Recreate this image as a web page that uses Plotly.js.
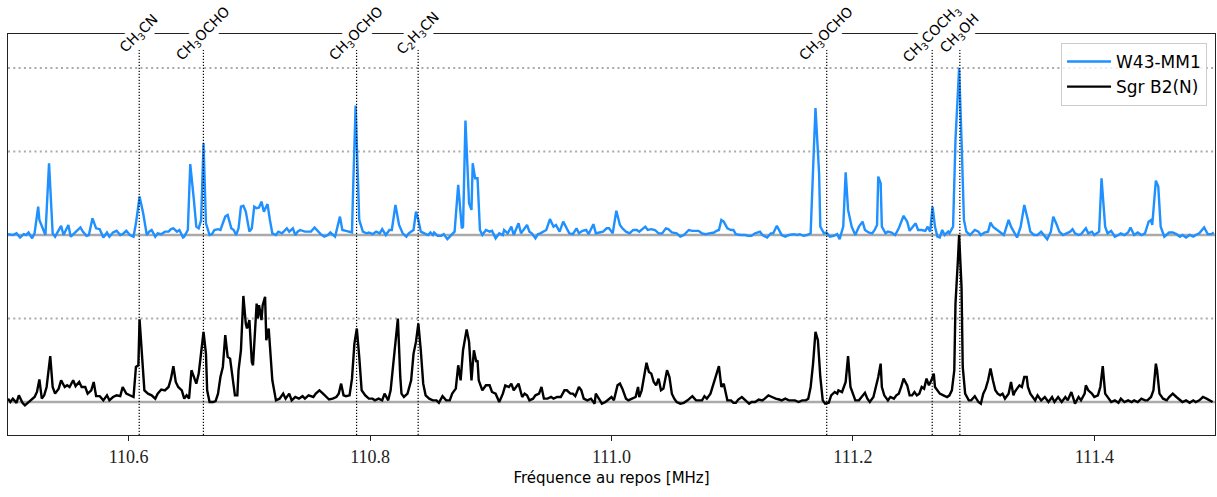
<!DOCTYPE html>
<html><head><meta charset="utf-8">
<script src="https://cdn.plot.ly/plotly-3.0.1.min.js"></script>
<style>html,body{margin:0;padding:0;background:#fff}#chart{width:1217px;height:497px}</style>
</head><body><div id="chart"></div>
<script>
// W43-MM1 spectrum (normalised intensity)
const w43Freq = [
110.500,110.504,110.507,110.510,110.513,110.515,110.517,110.520,110.522,110.525,
110.526,110.529,110.531,110.534,110.537,110.539,110.541,110.544,110.546,110.550,
110.552,110.555,110.557,110.560,110.562,110.565,110.567,110.570,110.573,110.576,
110.579,110.582,110.584,110.587,110.590,110.593,110.595,110.598,110.601,110.604,
110.606,110.609,110.612,110.615,110.617,110.619,110.622,110.624,110.627,110.630,
110.633,110.635,110.637,110.640,110.642,110.645,110.646,110.649,110.651,110.654,
110.656,110.658,110.660,110.662,110.664,110.667,110.669,110.671,110.674,110.676,
110.680,110.682,110.685,110.687,110.689,110.691,110.693,110.695,110.697,110.700,
110.702,110.704,110.706,110.708,110.710,110.712,110.715,110.717,110.719,110.722,
110.724,110.727,110.729,110.731,110.733,110.736,110.738,110.740,110.742,110.746,
110.748,110.751,110.754,110.757,110.759,110.762,110.765,110.767,110.769,110.771,
110.775,110.777,110.780,110.783,110.785,110.786,110.788,110.791,110.794,110.797,
110.799,110.802,110.805,110.808,110.810,110.813,110.816,110.818,110.821,110.824,
110.827,110.830,110.832,110.836,110.838,110.840,110.842,110.845,110.848,110.850,
110.852,110.853,110.856,110.859,110.861,110.864,110.867,110.870,110.873,110.876,
110.877,110.879,110.882,110.884,110.885,110.887,110.889,110.891,110.893,110.896,
110.899,110.901,110.904,110.907,110.910,110.911,110.914,110.917,110.919,110.923,
110.925,110.928,110.930,110.932,110.934,110.937,110.939,110.941,110.944,110.946,
110.949,110.952,110.954,110.957,110.960,110.962,110.965,110.968,110.971,110.973,
110.976,110.979,110.981,110.985,110.987,110.990,110.993,110.996,110.998,111.001,
111.004,111.007,111.009,111.012,111.015,111.018,111.021,111.023,111.028,111.030,
111.033,111.036,111.039,111.042,111.045,111.047,111.050,111.054,111.057,111.060,
111.064,111.067,111.070,111.072,111.075,111.078,111.081,111.085,111.087,111.089,
111.091,111.093,111.096,111.099,111.101,111.103,111.107,111.111,111.113,111.116,
111.119,111.123,111.125,111.129,111.132,111.134,111.137,111.139,111.141,111.144,
111.147,111.151,111.154,111.156,111.159,111.162,111.165,111.167,
111.169,111.172,111.173,111.176,111.178,111.181,111.184,111.187,111.189,111.192,
111.194,111.196,111.199,111.202,111.205,111.208,111.210,111.213,111.216,111.218,
111.220,111.221,111.223,111.224,111.227,111.229,111.232,111.235,111.238,111.242,
111.245,111.247,111.250,111.252,111.254,111.257,111.260,111.262,111.264,111.266,
111.268,111.270,111.272,111.274,111.276,111.279,111.280,111.283,111.285,111.287,
111.288,111.290,111.292,111.294,111.297,111.301,111.304,111.306,111.309,111.312,
111.314,111.316,111.319,111.322,111.325,111.326,111.329,111.331,111.334,111.336,
111.339,111.342,111.345,111.347,111.350,111.353,111.356,111.358,111.361,111.364,
111.366,111.369,111.371,111.374,111.377,111.380,111.382,111.384,111.387,111.389,
111.393,111.395,111.398,111.400,111.404,111.406,111.409,111.411,111.414,111.417,
111.420,111.422,111.425,111.428,111.430,111.433,111.436,111.439,111.442,111.445,
111.447,111.448,111.451,111.453,111.455,111.458,111.462,111.465,111.468,111.471,
111.473,111.476,111.479,111.482,111.484,111.487,111.491,111.494,111.497,111.499
];
const w43Int = [
0.01,0,0.02,-0.03,0.01,0,0.03,-0.04,0.02,0.34,
0.18,0.06,0,0.86,0.02,-0.02,0.04,0.11,0,0.12,
-0.02,0.03,0.05,0.09,0.04,-0.01,0,0.20,0.08,0.07,
-0.03,0.03,-0.02,0.03,0.05,0,0.01,0.05,0,-0.02,
0.14,0.46,0.26,0,0.04,0.06,-0.02,0.02,0.01,0.04,
0.04,0.07,0.08,0.04,0.06,-0.03,-0.02,0.06,0.85,0.42,
0.10,0.08,0.18,1.10,0.14,0,0.01,0.06,0.07,0.06,
0.22,0.24,0.08,0.06,0,0.08,0.34,0.35,0.28,0.04,
0.08,0.34,0.32,0.33,0.40,0.28,0.37,0.18,0.02,0,
0.04,0.02,0.05,0.08,0.04,0.08,0,0.04,0.06,0.04,
0.04,0.04,0.09,0.04,0.01,-0.02,0,0.03,0,-0.02,
0.22,0.06,0.05,0.04,0.03,0.58,1.55,0.18,0.04,0.02,
0.03,0.01,0.04,0.02,0.07,0,0.06,0.06,0.36,0.12,
0.02,-0.02,0.02,0.06,0.28,0.18,0.04,0.02,0,0.03,
0,0.03,-0.01,-0.01,0.01,-0.05,0,0.04,0.60,0.08,
0.10,1.37,0.38,0.30,0.86,0.68,0.68,0.06,0,0.06,
0.04,0.05,-0.04,0.02,0,0.06,0.02,0.10,0,0.14,
0.02,0.08,0.12,0.04,0.02,-0.04,0.01,0.02,0.04,0.06,
0.19,0.10,0.12,0.04,0.16,0.10,0.02,0.01,0.08,0.02,
0.05,0.06,0.01,0.13,0.02,0.03,0.04,0.08,0.08,0.02,
0.29,0.12,0.08,0.04,0.02,0.06,0.06,0.04,0.10,0.06,
0.07,0.06,0.02,0.02,0.08,0.07,0.03,0.02,-0.02,0,
0.06,0.05,0.05,0.05,0.02,0.01,0.02,0.03,0.05,0.06,
0.18,0.16,0.08,0.06,0.06,0.01,0,0,-0.01,-0.01,
0.02,0.04,0,-0.03,0.02,0.02,0.11,0.06,0,-0.02,
0,0.01,0,0.01,-0.01,0,0.02,0.78,
1.52,0.74,0.10,0.02,0.03,-0.02,-0.01,0.01,-0.05,0.10,
0.75,0.30,0.10,0,0.10,0.16,0.06,0.03,0.02,0.06,
0.12,0.70,0.62,0.10,0.02,0.04,0.03,0,0.08,0.23,
0.16,0.05,0.10,0.14,0.06,0.06,0.05,0.10,0.04,0.34,
0.10,-0.02,-0.03,0.06,0,0.04,0.02,0.10,1.14,1.78,
2.00,1.14,0.18,0.04,0,0.06,0.04,0,0.03,0.04,
0.15,0.10,0.07,0.04,0,0.04,0.18,0.10,0.02,-0.03,
0.10,0.36,0.18,0.04,0,0,0.04,0,-0.05,0.04,
0.22,0.12,0.04,0,0.02,0.04,0.07,0.02,0,0.01,
0.08,0.02,0.04,0,0.04,0.68,0.10,0.02,0.05,-0.02,
0,0.02,0,0.03,0.09,0,0.03,0,0.02,0.16,
0.18,0.12,0.65,0.58,0.10,-0.02,0.03,0.03,0.01,-0.02,
0,-0.03,0,-0.02,0,0.02,0.09,0.01,0.01,0.03
];

// Sgr B2(N) spectrum (normalised intensity)
const sgrFreq = [
110.500,110.502,110.504,110.507,110.509,110.512,110.514,110.517,110.520,110.522,
110.524,110.526,110.528,110.530,110.532,110.535,110.537,110.539,110.542,110.544,
110.547,110.549,110.551,110.554,110.556,110.559,110.561,110.564,110.566,110.569,
110.571,110.573,110.576,110.579,110.582,110.584,110.587,110.590,110.593,110.595,
110.598,110.601,110.604,110.606,110.608,110.609,110.611,110.613,110.616,110.619,
110.622,110.624,110.627,110.630,110.633,110.635,110.637,110.639,110.641,110.644,
110.646,110.648,110.650,110.652,110.654,110.656,110.658,110.660,110.662,110.664,
110.665,110.667,110.670,110.672,110.674,110.676,110.678,110.680,110.682,110.684,
110.686,110.688,110.690,110.691,110.693,110.695,110.697,110.698,110.700,110.702,
110.703,110.706,110.707,110.708,110.710,110.711,110.713,110.714,110.716,110.717,
110.719,110.722,110.725,110.728,110.730,110.733,110.735,110.738,110.741,110.744,
110.746,110.749,110.753,110.755,110.758,110.761,110.764,110.766,110.769,110.772,
110.774,110.776,110.778,110.780,110.783,110.785,110.787,110.789,110.791,110.793,
110.796,110.799,110.802,110.804,110.807,110.810,110.812,110.815,110.817,110.819,
110.821,110.823,110.825,110.826,110.828,110.831,110.834,110.836,110.838,110.840,
110.842,110.844,110.846,110.849,110.852,110.855,110.857,110.860,110.863,110.866,
110.868,110.871,110.873,110.875,110.877,110.880,110.882,110.884,110.886,110.888,
110.889,110.890,110.893,110.896,110.899,110.901,110.904,110.907,110.910,110.912,
110.915,110.917,110.919,110.923,110.926,110.928,110.930,110.932,110.935,110.937,
110.940,110.942,110.944,110.947,110.950,110.952,110.955,110.958,110.961,110.963,
110.966,110.968,110.970,110.973,110.975,110.977,110.980,110.983,110.986,110.987,
110.990,110.992,110.995,110.998,111.000,111.002,111.005,111.007,111.009,111.012,
111.014,111.017,111.020,111.022,111.023,111.025,111.029,111.031,111.033,111.035,
111.037,111.039,111.041,111.043,111.046,111.048,111.050,111.052,111.054,111.057,
111.060,111.063,111.067,111.070,111.072,111.075,111.077,111.079,111.082,111.085,
111.087,111.089,111.091,111.093,111.096,111.099,111.101,111.103,111.105,111.108,
111.111,111.114,111.116,111.119,111.122,111.125,111.127,111.130,111.133,111.136,
111.139,111.141,111.144,111.147,111.150,111.152,111.155,111.158,111.161,111.163,
111.165,111.167,111.169,111.171,111.173,111.175,111.177,111.180,111.182,111.185,
111.187,111.188,111.191,111.194,111.196,111.198,111.200,111.202,111.205,111.207,
111.210,111.212,111.214,111.217,111.219,111.221,111.223,111.224,111.226,111.229,
111.231,111.234,111.236,111.238,111.240,111.242,111.245,111.247,111.249,111.251,
111.253,111.255,111.257,111.259,111.261,111.263,111.265,111.267,111.268,111.270,
111.272,111.275,111.278,111.280,111.282,111.284,111.285,111.287,111.288,111.290,
111.291,111.293,111.296,111.298,111.301,111.304,111.306,111.308,111.310,111.312,
111.314,111.316,111.318,111.320,111.322,111.324,111.326,111.329,111.331,111.333,
111.334,111.336,111.338,111.340,111.342,111.344,111.345,111.347,111.349,111.351,
111.353,111.356,111.359,111.362,111.365,111.367,111.370,111.373,111.376,111.378,
111.381,111.384,111.387,111.389,111.392,111.393,111.395,111.398,111.400,111.403,
111.405,111.407,111.409,111.411,111.414,111.417,111.420,111.422,111.425,111.428,
111.431,111.433,111.436,111.439,111.442,111.444,111.447,111.449,111.451,111.452,
111.454,111.457,111.460,111.462,111.465,111.468,111.471,111.473,111.476,111.479,
111.482,111.484,111.487,111.490,111.493,111.495,111.498
];
const sgrInt = [
0.04,0,0.04,-0.01,0.08,-0.01,-0.04,0,0.04,0.06,
0.12,0.27,0.04,0.08,0.18,0.55,0.18,0.10,0.16,0.26,
0.18,0.20,0.18,0.26,0.19,0.24,0.18,0.18,0.10,0.14,
0.24,0.07,0.07,0.02,0.08,0.02,0.06,0.08,0.07,0.18,
0.10,0.08,0.06,0.42,0.44,0.99,0.54,0.14,0.10,0.08,
0.04,0.10,0.15,0.14,0.18,0.28,0.43,0.24,0.18,0.14,
0.04,0.08,0.04,0.38,0.30,0.22,0.34,0.58,0.84,0.58,
0.14,0,0,0.01,0.10,0.30,0.42,0.80,0.54,0.52,
0.26,0.08,0.08,0.38,0.62,1.27,0.94,0.88,0.98,0.48,
0.44,1.18,1.00,1.16,0.98,1.16,1.26,0.74,0.88,0.70,
0.26,0.02,0.04,0.10,0.04,0.10,0.02,0.06,0.04,0.07,
0.04,0.08,0.06,0.10,0.14,0.10,0.06,0.03,0.04,0.06,
0.10,0.22,0.08,0.07,0.08,0.28,0.70,0.88,0.54,0.14,
0.08,0.04,0.04,0.02,0.04,0.02,0.10,0.02,0.14,0.42,
0.78,1.00,0.30,0.10,0.06,0.10,0.26,0.58,0.72,0.94,
0.62,0.22,0.08,0.04,0.02,0.02,-0.01,0.07,0.02,0.02,
0.10,0.16,0.44,0.26,0.62,0.87,0.72,0.26,0.62,0.48,
0.50,0.26,0.14,0.20,0.20,0.12,0.10,0,0.10,0.20,
0.18,0.22,0.14,0.22,0.06,0.10,0.08,0.02,0.04,0.08,
0.10,0.18,0.04,0.04,0.06,0.04,0.06,0.06,0.14,0.14,
0.10,0.10,0.07,0.18,0.14,0.04,0.02,0.04,-0.02,0.10,
0.03,-0.02,0,0.04,0.06,0.02,0.20,0.22,0.16,0.04,
0.02,0.04,0.06,0.18,0.06,0.14,0.47,0.36,0.34,0.24,
0.20,0.28,0.14,0.16,0.38,0.30,0.10,0.04,0,-0.02,
-0.01,0.02,0.07,0.02,0.02,0.02,0.07,0.04,0.10,0.24,
0.36,0.43,0.18,0.22,0.02,0.02,-0.01,-0.01,0.03,0.06,
0.02,-0.02,0,0,0.03,0.02,0.04,0.08,0.06,0.04,
0.03,0.02,0.04,0.02,0.02,0.02,0,0.02,0.02,0.04,
0.18,0.46,0.84,0.74,0.30,0.02,-0.02,-0.01,0.08,0.12,
0.10,0.14,0.12,0.24,0.55,0.18,0.10,0.02,0.02,0.06,
0.11,0.04,0,0.06,0.18,0.30,0.46,0.18,0.08,0.02,
0.06,0.04,0.08,0.10,0.18,0.28,0.20,0.08,0.08,0.12,
0.08,0.10,0.18,0.16,0.28,0.20,0.26,0.34,0.18,0.14,
0.10,0.08,0.06,0.08,0.14,0.38,1.18,1.70,2.00,1.38,
0.42,0.10,0.02,0.02,0.07,0,-0.02,0.10,0.16,0.26,
0.40,0.26,0.14,0.10,0.08,0.10,0.04,0.10,0.24,0.08,
0.12,0.16,0.20,0.18,0.30,0.30,0.18,0.10,0.06,0.02,
0.08,0.02,0.06,0,0.06,0,0.06,0,0.06,0.02,
0.12,-0.02,0.06,0.02,0.10,0.20,0.14,0.10,0.06,0.08,
0.18,0.43,0.10,0.06,0,0.02,-0.01,0.04,0,0.02,
0,0.02,0,0.04,0.02,0.02,0.06,0.14,0.46,0.38,
0.10,0.04,0.02,0.06,0.10,0.06,0.02,0,0.02,-0.01,
0.02,0,0.02,0.06,0.04,0.02,0
];

// Identified lines
const lineFreqs  = [110.6087, 110.6619, 110.7888, 110.8398, 111.1783, 111.2657, 111.2886];
const lineLabels = ['CH<sub>3</sub>CN','CH<sub>3</sub>OCHO','CH<sub>3</sub>OCHO','C<sub>2</sub>H<sub>3</sub>CN',
                    'CH<sub>3</sub>OCHO','CH<sub>3</sub>COCH<sub>3</sub>','CH<sub>3</sub>OH'];

const tickVals = [110.6, 110.8, 111.0, 111.2, 111.4];
const seriesNames = ['W43-MM1', 'Sgr B2(N)'];

const w43Offset = 2;        // vertical offset of the upper spectrum
const refLevels = [1, 3, 4]; // dotted reference levels

if (w43Freq.length !== w43Int.length || sgrFreq.length !== sgrInt.length) {
  console.warn('length mismatch', w43Freq.length, w43Int.length, sgrFreq.length, sgrInt.length);
}

const traces = [
  {x: w43Freq, y: w43Int.map(v => v + w43Offset), name: seriesNames[0], type: 'scatter', mode: 'lines',
   line: {color: '#1e90ff', width: 2.4}},
  {x: sgrFreq, y: sgrInt, name: seriesNames[1], type: 'scatter', mode: 'lines',
   line: {color: '#000000', width: 2.4}}
];

const shapes = [];
[0, w43Offset].forEach(v => shapes.push({type: 'line', xref: 'paper', x0: 0, x1: 1, yref: 'y', y0: v, y1: v,
  layer: 'below', line: {color: '#aaaaaa', width: 2.4}}));
refLevels.forEach(v => shapes.push({type: 'line', xref: 'paper', x0: 0, x1: 1, yref: 'y', y0: v, y1: v,
  layer: 'below', line: {color: '#aaaaaa', width: 2, dash: '2px,3.3px'}}));
lineFreqs.forEach(f => shapes.push({type: 'line', xref: 'x', x0: f, x1: f, yref: 'paper', y0: 0, y1: 0.96,
  layer: 'above', line: {color: '#000000', width: 1.2, dash: '1.2px,1.8px'}}));

const annotations = lineFreqs.map((f, i) => ({
  x: f, xref: 'x', y: 1, yref: 'paper', text: lineLabels[i], showarrow: false,
  textangle: -45, xanchor: 'center', yanchor: 'middle', bgcolor: '#ffffff', borderpad: 1,
  font: {family: 'DejaVu Sans', size: 14, color: '#000'}
}));

const layout = {
  width: 1217, height: 497,
  margin: {l: 8, r: 2, t: 34, b: 62},
  paper_bgcolor: '#ffffff', plot_bgcolor: '#ffffff',
  showlegend: true,
  legend: {x: 0.9934, y: 0.9776, xanchor: 'right', yanchor: 'top', itemwidth: 44,
    bgcolor: 'rgba(255,255,255,0.8)', bordercolor: '#cccccc', borderwidth: 1,
    font: {family: 'DejaVu Sans', size: 17, color: '#000'}},
  xaxis: {range: [110.5, 111.5], tickvals: tickVals, tickformat: '.1f',
    ticks: 'outside', ticklen: 5, tickwidth: 1, tickcolor: '#222',
    showline: true, linecolor: '#222', linewidth: 1, mirror: true,
    showgrid: false, zeroline: false,
    tickfont: {family: 'Liberation Serif', size: 18, color: '#222'},
    title: {text: 'Fréquence au repos [MHz]', font: {family: 'DejaVu Sans', size: 15, color: '#000'}, standoff: 6}},
  yaxis: {range: [-0.395, 4.407], showticklabels: false, ticks: '',
    showline: true, linecolor: '#222', linewidth: 1, mirror: true,
    showgrid: false, zeroline: false},
  shapes: shapes,
  annotations: annotations
};

Plotly.newPlot('chart', traces, layout, {displayModeBar: false, staticPlot: true});
</script>
</body></html>
